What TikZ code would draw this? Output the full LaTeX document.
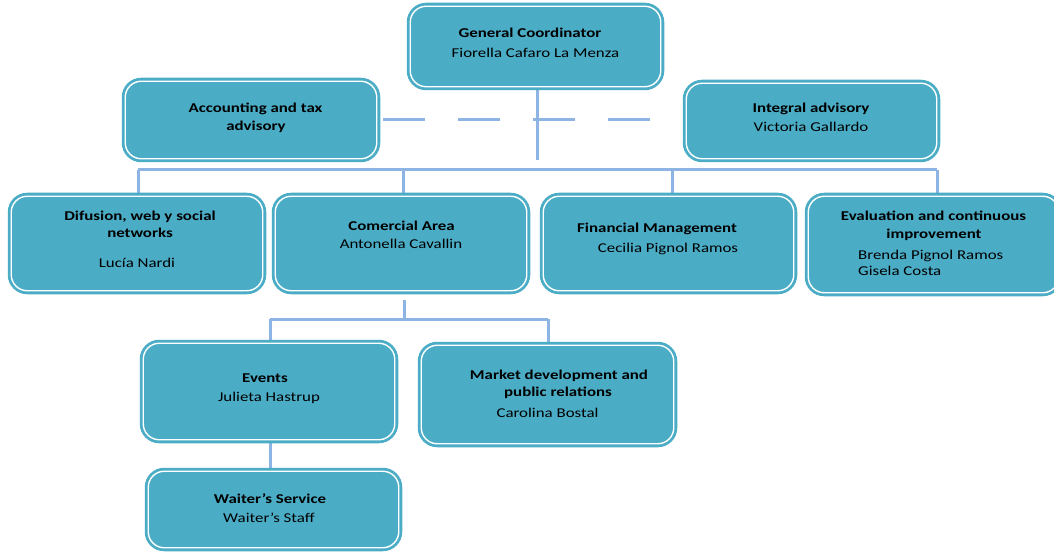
\documentclass[tikz,border=0pt]{standalone}
\usepackage{fontspec}
\setmainfont{Carlito}[FakeStretch=1.25]
\usetikzlibrary{backgrounds}
\definecolor{boxfill}{RGB}{75,172,198}
\definecolor{conncol}{RGB}{141,180,226}
\tikzset{
  orgbox/.style={rectangle, rounded corners=16pt, fill=boxfill, draw=boxfill,
    double=white, double distance=1.4pt, line width=2.8pt, inner sep=0pt},
  conn/.style={draw=conncol, line width=3pt},
  ttl/.style={font=\fontsize{13.5pt}{18pt}\selectfont\bfseries, inner sep=0pt, text height=9pt, text depth=3pt},
  nm/.style={font=\fontsize{13.5pt}{18pt}\selectfont, inner sep=0pt, text height=9pt, text depth=3pt}
}
\begin{document}
\begin{tikzpicture}[x=1pt,y=-1pt]
\clip (0,0) rectangle (1054,553);
% boxes
\node[orgbox, minimum width=250.5pt, minimum height=80.5pt] (gc) at (535.5,46.5) {};
\node[orgbox, minimum width=251.5pt, minimum height=77.5pt] (acc) at (251,120) {};
\node[orgbox, minimum width=250.5pt, minimum height=75.5pt] (int) at (811.5,121) {};
\node[orgbox, minimum width=251.5pt, minimum height=94.5pt] (dif) at (137,243.5) {};
\node[orgbox, minimum width=251.5pt, minimum height=94.5pt] (com) at (401,243.5) {};
\node[orgbox, minimum width=250.5pt, minimum height=94.5pt] (fin) at (668.5,243.5) {};
\node[orgbox, minimum width=250.5pt, minimum height=96.5pt] (eva) at (933.5,244.5) {};
\node[orgbox, minimum width=251.5pt, minimum height=96.5pt] (ev) at (269,391.5) {};
\node[orgbox, minimum width=252.5pt, minimum height=98.5pt] (mk) at (547.5,394.5) {};
\node[orgbox, minimum width=250.5pt, minimum height=76.5pt] (wt) at (273.5,509.5) {};
% texts
\node[ttl] (gct) at (530,35) {General Coordinator};
\node[nm] (gcn) at (535.5,55) {Fiorella Cafaro La Menza};
\node[ttl] (acct1) at (255.5,110) {Accounting and tax};
\node[ttl] (acct2) at (256,128) {advisory};
\node[ttl] (intt) at (811,110) {Integral advisory};
\node[nm] (intn) at (811,129) {Victoria Gallardo};
\node[ttl] (dift1) at (140,218) {Difusion, web y social};
\node[ttl] (dift2) at (140,235) {networks};
\node[nm] (difn) at (137,265) {Lucía Nardi};
\node[ttl] (comt) at (401.5,228) {Comercial Area};
\node[nm] (comn) at (401,246) {Antonella Cavallin};
\node[ttl] (fint) at (657,230) {Financial Management};
\node[nm] (finn) at (668,249) {Cecilia Pignol Ramos};
\node[ttl] (evat1) at (933.5,218) {Evaluation and continuous};
\node[ttl] (evat2) at (934,236) {improvement};
\node[nm, anchor=west] (evan1) at (858,257) {Brenda Pignol Ramos};
\node[nm, anchor=west] (evan2) at (858,273) {Gisela Costa};
\node[ttl] (evt) at (265,379) {Events};
\node[nm] (evn) at (269,398) {Julieta Hastrup};
\node[ttl] (mkt1) at (559,376) {Market development and};
\node[ttl] (mkt2) at (558,393) {public relations};
\node[nm] (mkn) at (547.5,414) {Carolina Bostal};
\node[ttl] (wtt) at (270,500) {Waiter’s Service};
\node[nm] (wtn) at (269,519) {Waiter’s Staff};
% connectors
\begin{scope}[on background layer]
\coordinate (gcdrop) at (537,160);
\coordinate (busL) at (138,170);
\coordinate (busR) at (937,170);
\coordinate (d2) at (403,170);
\coordinate (d3) at (672,170);
\draw[conn] (gcdrop |- gc.south) -- (gcdrop);
\draw[conn] (busL) -- (busR);
\draw[conn] (busL) -- (busL |- dif.north);
\draw[conn] (d2) -- (d2 |- com.north);
\draw[conn] (d3) -- (d3 |- fin.north);
\draw[conn] (busR) -- (busR |- eva.north);
\draw[conn, dash pattern=on 42pt off 33pt, dash phase=70pt] (acc.east) -- (acc.east -| int.west);
\coordinate (cdrop) at (404,300);
\coordinate (cbus) at (404,319);
\coordinate (cbL) at (270,319);
\coordinate (cbR) at (548,319);
\draw[conn] (cdrop) -- (cbus);
\draw[conn] (cbL) -- (cbR);
\draw[conn] (cbL) -- (cbL |- ev.north);
\draw[conn] (cbR) -- (cbR |- mk.north);
\coordinate (ew) at (270,443);
\draw[conn] (ew |- ev.south) -- (ew |- wt.north);
\end{scope}
\end{tikzpicture}
\end{document}
